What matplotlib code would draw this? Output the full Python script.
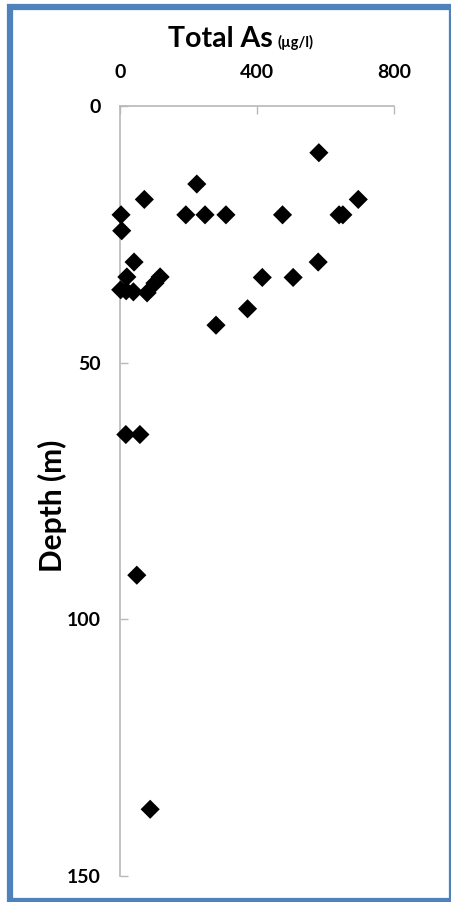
import matplotlib
matplotlib.use("Agg")
import matplotlib.pyplot as plt
from matplotlib.patches import Rectangle

# Data
total_as = [580, 224, 71, 695, 3, 192, 248, 309, 474, 639, 650, 5, 41, 578,
            20, 102, 117, 415, 505, 2, 18, 39, 79, 372, 280, 17, 58, 49, 88]
depth = [9.1, 15.2, 18.2, 18.2, 21.2, 21.2, 21.2, 21.2, 21.2, 21.2, 21.2, 24.3,
         30.4, 30.4, 33.3, 34.5, 33.3, 33.4, 33.4, 35.8, 36.0, 36.2, 36.4,
         39.5, 42.7, 64.0, 64.0, 91.4, 137.0]
x_ticks = [0, 400, 800]
y_ticks = [0, 50, 100, 150]

W, H = 451, 902
fig = plt.figure(figsize=(W / 100, H / 100), dpi=100)
fig.patch.set_facecolor("white")

ax = fig.add_axes([120 / W, 1 - 876 / H, (394.3 - 120) / W, (876 - 106) / H])
ax.scatter(total_as, depth, marker="D", s=95, color="black", edgecolors="none",
           zorder=3, clip_on=False)

ax.set_xlim(0, 800)
ax.set_ylim(150, 0)
ax.xaxis.tick_top()
ax.set_xticks(x_ticks)
ax.set_yticks(y_ticks)

for s in ["right", "bottom"]:
    ax.spines[s].set_visible(False)
for s in ["left", "top"]:
    ax.spines[s].set_color("#b8b8b8")
    ax.spines[s].set_linewidth(1.2)

ax.tick_params(axis="both", direction="in", length=5.5, width=1.0, color="#b8b8b8",
               labelcolor="black")
ax.tick_params(axis="x", pad=18)
ax.tick_params(axis="y", pad=14)
for lab in ax.get_xticklabels() + ax.get_yticklabels():
    lab.set_fontfamily("Lato")
    lab.set_fontweight("bold")
    lab.set_fontsize(14)

ax.set_ylabel("Depth (m)", fontfamily="Lato", fontweight="bold", fontsize=21.5,
              va="center", ha="center")
ax.yaxis.set_label_coords((52 - 120) / (394.3 - 120), (876 - 506) / 770)

fig.text(220 / W, 1 - 47 / H, "Total As", ha="center", va="baseline",
         fontfamily="Lato", fontweight="bold", fontsize=20.5)
fig.text(278 / W, 1 - 47 / H, "(µg/l)", ha="left", va="baseline",
         fontfamily="Lato", fontweight="bold", fontsize=10.5)

border = Rectangle((10 / W, 1 - 901 / H), (452 - 10) / W, (901 - 7) / H,
                   transform=fig.transFigure, fill=False, edgecolor="#4f81bd",
                   linewidth=4.5, clip_on=False)
fig.patches.append(border)

fig.savefig("out.png", dpi=100)
